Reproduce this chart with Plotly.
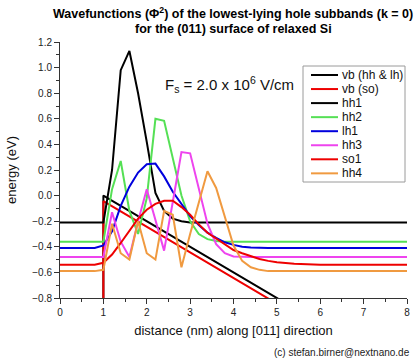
import plotly.graph_objects as go

# common x grid (nm) for the wavefunction curves
x_grid = [0, 0.8, 1.0, 1.2, 1.4, 1.6, 1.8, 2.0, 2.2, 2.4, 2.6, 2.8, 3.0, 3.2, 3.4,
          3.6, 3.8, 4.0, 4.2, 4.4, 4.6, 4.8, 5.0, 5.4, 6.0, 8.0]

hh1 = [-0.21, -0.21, -0.21, 0.20, 0.98, 1.13, 0.80, 0.42, 0.02, -0.12, -0.18, -0.20, -0.21,
       -0.21, -0.21, -0.21, -0.21, -0.21, -0.21, -0.21, -0.21, -0.21, -0.21, -0.21, -0.21, -0.21]
hh2 = [-0.36, -0.36, -0.36, 0.05, 0.27, -0.12, -0.30, -0.02, 0.60, 0.585, 0.29, 0.0, -0.20,
       -0.30, -0.34, -0.355, -0.36, -0.36, -0.36, -0.36, -0.36, -0.36, -0.36, -0.36, -0.36, -0.36]
lh1 = [-0.41, -0.41, -0.39, -0.28, -0.08, 0.07, 0.18, 0.245, 0.25, 0.15, 0.03, -0.07, -0.16,
       -0.23, -0.29, -0.33, -0.365, -0.385, -0.40, -0.405, -0.41, -0.41, -0.41, -0.41, -0.41, -0.41]
hh3 = [-0.48, -0.48, -0.48, -0.13, -0.36, -0.48, -0.20, 0.05, -0.20, -0.43, -0.05, 0.34, 0.33,
       0.05, -0.22, -0.38, -0.45, -0.475, -0.48, -0.48, -0.48, -0.48, -0.48, -0.48, -0.48, -0.48]
so1 = [-0.54, -0.54, -0.525, -0.46, -0.37, -0.27, -0.18, -0.11, -0.065, -0.04, -0.04, -0.09, -0.15,
       -0.225, -0.29, -0.335, -0.38, -0.425, -0.45, -0.475, -0.495, -0.51, -0.52, -0.532, -0.54, -0.54]
hh4 = [-0.59, -0.59, -0.58, -0.22, -0.45, -0.50, -0.20, -0.45, -0.50, -0.12, -0.15, -0.56, -0.30,
       -0.06, 0.19, 0.06, -0.17, -0.39, -0.51, -0.56, -0.58, -0.59, -0.59, -0.59, -0.59, -0.59]

# valence band edges (potential)
vb_x = [0, 1.0, 1.0, 5.0, 8.0]
vb_hh_lh = [-3.0, -3.0, 0.0, -0.8, -1.4]
vb_so = [-3.044, -3.044, -0.044, -0.844, -1.444]

series_names = ["vb (hh & lh)", "vb (so)", "hh1", "hh2", "lh1", "hh3", "so1", "hh4"]
series_x = [vb_x, vb_x, x_grid, x_grid, x_grid, x_grid, x_grid, x_grid]
series_y = [vb_hh_lh, vb_so, hh1, hh2, lh1, hh3, so1, hh4]
series_colors = ["#000000", "#ee0000", "#000000", "#55e055", "#0000dd", "#ee44ee",
                 "#ee0000", "#f09a40"]

FONT = "Arial, Liberation Sans, sans-serif"
W, H = 417, 360
ML, MR, MT, MB = 60, 10, 42, 62
PW, PH = W - ML - MR, H - MT - MB


def px_x(p):  # pixel -> paper x
    return (p - ML) / PW


def px_y(p):  # pixel -> paper y
    return (H - MB - p) / PH


fig = go.Figure()
for name, xs, ys, col in zip(series_names, series_x, series_y, series_colors):
    fig.add_trace(go.Scatter(x=xs, y=ys, mode="lines", name=name, showlegend=False,
                             line=dict(color=col, width=2)))

# legend box drawn as layout decorations
shapes = [dict(type="rect", xref="paper", yref="paper", x0=px_x(303), x1=px_x(405),
               y0=px_y(182), y1=px_y(66), line=dict(color="#9a9a9a", width=1),
               fillcolor="white", layer="above")]
annotations = []
for i, (name, col) in enumerate(zip(series_names, series_colors)):
    yc = 75 + i * 14.05
    shapes.append(dict(type="line", xref="paper", yref="paper", x0=px_x(311), x1=px_x(338),
                       y0=px_y(yc), y1=px_y(yc), line=dict(color=col, width=2),
                       layer="above"))
    annotations.append(dict(text=name, xref="paper", yref="paper", x=px_x(340), y=px_y(yc),
                            xanchor="left", yanchor="middle", showarrow=False,
                            font=dict(family=FONT, size=12, color="#111111")))

annotations += [
    dict(text="Wavefunctions (\u03a6<sup>2</sup>) of the lowest-lying hole subbands (k = 0)",
         xref="paper", yref="paper", x=px_x(233), y=px_y(13), xanchor="center",
         yanchor="middle", showarrow=False,
         font=dict(family=FONT, size=12.5, color="#000000", weight="bold")),
    dict(text="for the (011) surface of relaxed Si",
         xref="paper", yref="paper", x=px_x(233), y=px_y(29), xanchor="center",
         yanchor="middle", showarrow=False,
         font=dict(family=FONT, size=12.5, color="#000000", weight="bold")),
    dict(text="F<sub>s</sub> = 2.0 x 10<sup>6</sup> V/cm", x=2.38, y=0.87,
         xref="x", yref="y", xanchor="left", yanchor="middle", showarrow=False,
         font=dict(family=FONT, size=15, color="#111111")),
    dict(text="(c) stefan.birner@nextnano.de", xref="paper", yref="paper",
         x=px_x(412), y=px_y(352), xanchor="right", yanchor="middle", showarrow=False,
         font=dict(family=FONT, size=10, color="#222222")),
]

fig.update_layout(
    width=W, height=H,
    margin=dict(l=ML, r=MR, t=MT, b=MB, autoexpand=False),
    paper_bgcolor="white", plot_bgcolor="white",
    font=dict(family=FONT, color="#222222", size=10),
    showlegend=False,
    shapes=shapes,
    annotations=annotations,
    xaxis=dict(range=[0, 8], dtick=1, ticks="outside", ticklen=5, tickwidth=1,
               tickcolor="#333333", showline=True, linecolor="#333333", linewidth=1,
               showgrid=False, zeroline=False, automargin=False,
               tickfont=dict(size=10, color="#222222"),
               minor=dict(dtick=0.5, ticks="outside", ticklen=3, tickcolor="#333333"),
               title=dict(text="distance (nm) along [011] direction", standoff=8,
                          font=dict(size=13, color="#111111"))),
    yaxis=dict(range=[-0.8, 1.2], dtick=0.2, tickformat=".1f", ticks="outside", ticklen=5,
               tickwidth=1, tickcolor="#333333", showline=True, linecolor="#333333",
               linewidth=1, showgrid=False, zeroline=False, automargin=False,
               tickfont=dict(size=10, color="#222222"),
               minor=dict(dtick=0.1, ticks="outside", ticklen=3, tickcolor="#333333"),
               title=dict(text="energy (eV)", standoff=12,
                          font=dict(size=13, color="#111111"))),
)

fig.write_html("out.html", config={"displayModeBar": False},
               post_script="document.body.style.margin='0';document.body.style.padding='0';"
                           "document.body.style.overflow='hidden';")
